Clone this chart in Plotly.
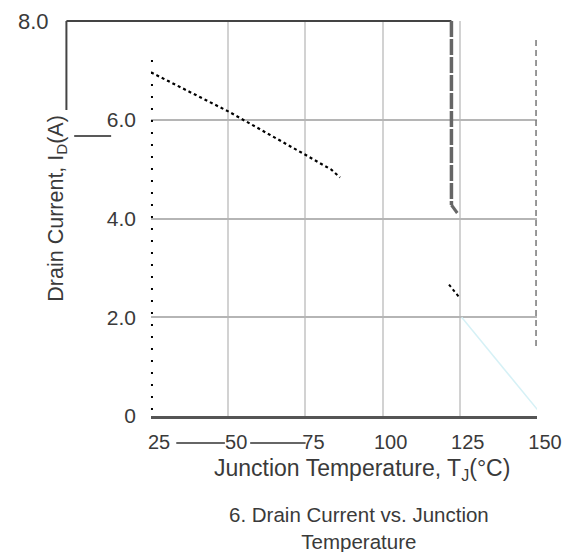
import plotly.graph_objects as go

# ---- data ----
temp_main = [25, 50, 75, 83.4, 86.2]
id_main = [6.96, 6.17, 5.29, 4.99, 4.83]
temp_mid = [121.5, 125]
id_mid = [2.66, 2.39]
temp_tail = [125.6, 150.5]
id_tail = [2.0, 0.1]

x_ticks = [25, 50, 75, 100, 125, 150]
x_ticktext = ["25", "50", "75", "100", "125", "150"]
y_ticks = [0, 2, 4, 6]
y_ticktext = ["0", "2.0", "4.0", "6.0"]

W, H = 574, 552
L, R, T, B = 151, 26, 21, 136
PW, PH = W - L - R, H - T - B

def px(x):
    return (x - L) / PW

def py(y):
    return (H - B - y) / PH

FONT = "Liberation Sans, Arial, sans-serif"
TXT = "#3a3a3a"

fig = go.Figure()
fig.add_trace(go.Scatter(x=temp_main, y=id_main, mode="lines",
                         line=dict(color="black", width=2.2, dash="dot"),
                         showlegend=False, hoverinfo="skip"))
fig.add_trace(go.Scatter(x=temp_mid, y=id_mid, mode="lines",
                         line=dict(color="black", width=2, dash="dot"),
                         showlegend=False, hoverinfo="skip"))
fig.add_trace(go.Scatter(x=temp_tail, y=id_tail, mode="lines",
                         line=dict(color="#d6f1f6", width=1.5),
                         showlegend=False, hoverinfo="skip", cliponaxis=False))

shapes = []
# frame remnants
shapes.append(dict(type="line", xref="paper", yref="paper",
                   x0=px(64), y0=py(21), x1=px(460), y1=py(21),
                   line=dict(color="#444", width=2)))
shapes.append(dict(type="line", xref="paper", yref="paper",
                   x0=px(64), y0=py(21), x1=px(64), y1=py(110),
                   line=dict(color="#444", width=2)))
shapes.append(dict(type="line", xref="paper", yref="paper",
                   x0=px(460), y0=py(21), x1=px(460), y1=py(205),
                   line=dict(color="#666", width=3.5, dash="16px,2px")))
shapes.append(dict(type="line", xref="paper", yref="paper",
                   x0=px(460), y0=py(205), x1=px(466), y1=py(213),
                   line=dict(color="#666", width=3)))
shapes.append(dict(type="line", xref="paper", yref="paper",
                   x0=px(72), y0=py(136), x1=px(110), y1=py(136),
                   line=dict(color="#222", width=1.5)))
# left dotted axis
shapes.append(dict(type="line", xref="paper", yref="paper",
                   x0=px(152), y0=py(60), x1=px(152), y1=py(410),
                   line=dict(color="black", width=2, dash="2px,10px")))
# right dashed column at 150
shapes.append(dict(type="line", xref="paper", yref="paper",
                   x0=px(547), y0=py(40), x1=px(547), y1=py(350),
                   line=dict(color="#777", width=1.5, dash="6px,4px")))
# underscores between tick labels
shapes.append(dict(type="line", xref="paper", yref="paper",
                   x0=px(177), y0=py(443), x1=px(227), y1=py(443),
                   line=dict(color="#333", width=1.3)))
shapes.append(dict(type="line", xref="paper", yref="paper",
                   x0=px(253), y0=py(443), x1=px(310), y1=py(443),
                   line=dict(color="#333", width=1.3)))

annotations = [
    dict(text="8.0", xref="paper", yref="paper", x=px(30), y=py(21),
         showarrow=False, xanchor="center", yanchor="middle",
         font=dict(family=FONT, size=22, color=TXT)),
    dict(text="Drain Current, I<sub>D</sub>(A)", xref="paper", yref="paper",
         x=px(54), y=py(208), textangle=-90, showarrow=False,
         xanchor="center", yanchor="middle",
         font=dict(family=FONT, size=21.5, color=TXT)),
    dict(text="Junction Temperature, T<sub>J</sub>(°C)", xref="paper", yref="paper",
         x=px(368), y=py(469), showarrow=False, xanchor="center", yanchor="middle",
         font=dict(family=FONT, size=23, color=TXT)),
    dict(text="6. Drain Current vs. Junction<br>Temperature", xref="paper", yref="paper",
         x=px(365), y=py(528), showarrow=False, xanchor="center", yanchor="middle",
         align="center",
         font=dict(family=FONT, size=20.5, color=TXT)),
]

fig.update_layout(
    width=W, height=H,
    margin=dict(l=L, r=R, t=T, b=B, pad=0),
    paper_bgcolor="white", plot_bgcolor="white",
    shapes=shapes, annotations=annotations,
    xaxis=dict(range=[25, 150], tickvals=x_ticks, ticktext=x_ticktext,
               showgrid=True, gridcolor="#d2d2d2", gridwidth=1.5,
               zeroline=False, showline=True, linecolor="#555", linewidth=3,
               ticks="", ticklabelshift=8, ticklabelstandoff=6,
               tickfont=dict(family=FONT, size=20, color=TXT)),
    yaxis=dict(range=[0, 8], tickvals=y_ticks, ticktext=y_ticktext,
               showgrid=True, gridcolor="#b5b5b5", gridwidth=2,
               zeroline=False, showline=False, ticks="",
               ticklabelstandoff=14,
               tickfont=dict(family=FONT, size=21, color=TXT)),
)

fig.write_html("out.html", config={"displayModeBar": False},
               post_script="document.body.style.margin='0px';document.body.style.overflow='hidden';")
